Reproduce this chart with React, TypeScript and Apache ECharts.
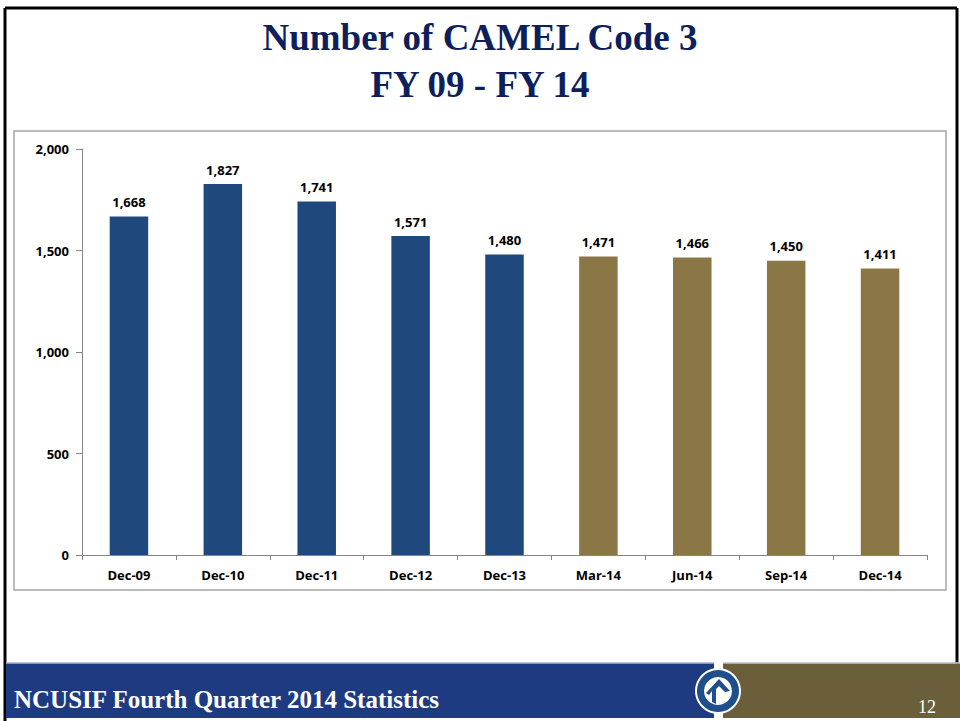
import React, { useEffect, useRef } from "react";
import * as echarts from "echarts";

const categories = ["Dec-09", "Dec-10", "Dec-11", "Dec-12", "Dec-13", "Mar-14", "Jun-14", "Sep-14", "Dec-14"];
const values = [1668, 1827, 1741, 1571, 1480, 1471, 1466, 1450, 1411];
const annualCount = 5; // first five bars are year-end (blue), rest quarterly (gold)
const yTicks = { min: 0, max: 2000, interval: 500 };

const BLUE = "#1F497D";
const GOLD = "#8B7646";

export default function App() {
  const ref = useRef<HTMLDivElement>(null);
  useEffect(() => {
    if (!ref.current) return;
    const chart = echarts.init(ref.current, null, { renderer: "svg" });
    const fmt = (v: number) => v.toLocaleString("en-US");
    const lc = 718; // logo centre x
    const lcy = 691;
    chart.setOption({
      animation: false,
      backgroundColor: "#ffffff",
      title: [
        {
          text: "Number of CAMEL Code 3\nFY 09 - FY 14",
          left: "center",
          top: 9,
          textStyle: {
            fontFamily: "Liberation Serif",
            fontWeight: "bold",
            fontSize: 37,
            lineHeight: 47,
            color: "#0E1F5B",
          },
        },
        {
          text: "NCUSIF Fourth Quarter 2014 Statistics",
          left: 9,
          top: 682,
          textStyle: {
            fontFamily: "Liberation Serif",
            fontWeight: "bold",
            fontSize: 25,
            color: "#ffffff",
          },
        },
        {
          text: "12",
          left: 913,
          top: 693,
          textStyle: {
            fontFamily: "Liberation Serif",
            fontWeight: "normal",
            fontSize: 18,
            color: "#ffffff",
          },
        },
      ],
      graphic: [
        { type: "rect", z: -10, shape: { x: 14, y: 131, width: 932, height: 459 }, style: { fill: "none", stroke: "#A6A6A6", lineWidth: 1.5 } },
        { type: "line", z: -5, shape: { x1: 5, y1: 8, x2: 957, y2: 8 }, style: { stroke: "#000", lineWidth: 3 } },
        { type: "line", z: -5, shape: { x1: 5, y1: 8, x2: 5, y2: 721 }, style: { stroke: "#000", lineWidth: 3 } },
        { type: "line", z: -5, shape: { x1: 957, y1: 8, x2: 957, y2: 663 }, style: { stroke: "#000", lineWidth: 3 } },
        { type: "rect", z: -4, shape: { x: 6, y: 663, width: lc - 4 - 6, height: 55 }, style: { fill: "#1E3A80" } },
        { type: "line", z: -4, shape: { x1: 6, y1: 663, x2: lc - 4, y2: 663 }, style: { stroke: "#A9B7D6", lineWidth: 1.5 } },
        { type: "rect", z: -4, shape: { x: lc + 5, y: 663, width: 960 - lc - 5, height: 55 }, style: { fill: "#6A5F3A" } },
        { type: "line", z: -4, shape: { x1: lc + 5, y1: 663, x2: 960, y2: 663 }, style: { stroke: "#B9C3D6", lineWidth: 1.5 } },
        { type: "circle", z: -3, shape: { cx: lc, cy: lcy, r: 23 }, style: { fill: "#ffffff" } },
        { type: "circle", z: -2, shape: { cx: lc, cy: lcy, r: 21 }, style: { fill: "#1E4F8A" } },
        { type: "circle", z: -2, shape: { cx: lc, cy: lcy, r: 14 }, style: { fill: "#ffffff" } },
        { type: "polygon", z: -1, shape: { points: [[lc - 12, lcy + 2], [lc + 1, lcy - 12], [lc + 12, lcy], [lc + 7, lcy + 1], [lc + 1, lcy - 5], [lc - 2, lcy - 2], [lc - 2, lcy + 13], [lc - 6, lcy + 11], [lc - 6, lcy], [lc - 9, lcy + 4]] }, style: { fill: "#1E4F8A" } },
      ],
      grid: { left: 82, right: 33, top: 149, bottom: 166, containLabel: false },
      xAxis: {
        type: "category",
        data: categories,
        axisLine: { lineStyle: { color: "#868686", width: 1 } },
        axisTick: { show: true, length: 5, lineStyle: { color: "#868686" } },
        axisLabel: {
          fontFamily: "Open Sans",
          fontWeight: "bold",
          fontSize: 13,
          color: "#000",
          margin: 13,
        },
      },
      yAxis: {
        type: "value",
        min: yTicks.min,
        max: yTicks.max,
        interval: yTicks.interval,
        splitLine: { show: false },
        axisLine: { show: true, lineStyle: { color: "#868686", width: 1 } },
        axisTick: { show: true, length: 6, lineStyle: { color: "#868686" } },
        axisLabel: {
          fontFamily: "Open Sans",
          fontWeight: "bold",
          fontSize: 13,
          color: "#000",
          margin: 13,
          formatter: (v: number) => fmt(v),
        },
      },
      series: [
        {
          type: "bar",
          barWidth: "41%",
          data: values.map((v, i) => ({
            value: v,
            itemStyle: { color: i < annualCount ? BLUE : GOLD },
          })),
          label: {
            show: true,
            position: "top",
            distance: 8,
            fontFamily: "Open Sans",
            fontWeight: "bold",
            fontSize: 13,
            color: "#000",
            formatter: (p: any) => fmt(p.value),
          },
        },
      ],
    });
    return () => chart.dispose();
  }, []);
  return (
    <div
      ref={ref}
      style={{ position: "absolute", left: 0, top: 0, width: 960, height: 721 }}
    />
  );
}
